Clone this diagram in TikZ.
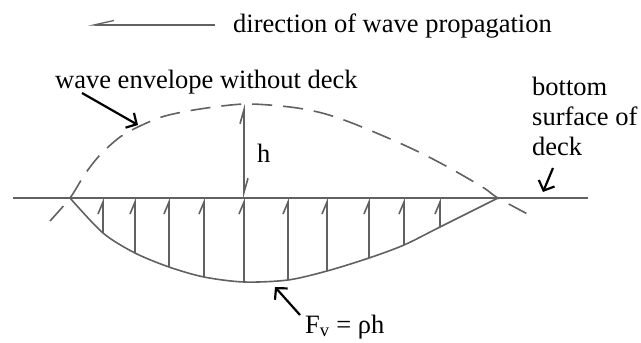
\documentclass[tikz,border=0pt]{standalone}
\usepackage{fontspec}
\setmainfont{Liberation Serif}
\usetikzlibrary{arrows.meta}

\begin{document}
\begin{tikzpicture}[x=1pt, y=-1pt,
        scan/.style={draw=black!62, line width=1.6pt},
        txt/.style={inner sep=0pt, anchor=base west, font=\fontsize{26.5}{30}\selectfont},
        pointer/.style={draw=black, line width=2.2pt, -{Straight Barb[length=8pt, width=17pt]}},
        hatch/.style={scan, -{Straight Barb[left, length=12pt, width=10pt]}}]
            \useasboundingbox (0,0) rectangle (641,343);

            % Draw nodes
            \node[txt] (dirtext) at (233,32) {direction of wave propagation};
            \node[txt] (envtext) at (55,88) {wave envelope without deck};
            \node[txt, align=left] (decktext) at (532,155) {bottom\\surface of\\deck};
            \node[txt] (htext) at (257,162) {h};
            \node[txt] (fvtext) at (305,333) {F\textsubscript{v} = ρh};

            % Arrow ends
            \coordinate (dirtail) at (215,25);
            \coordinate (dirtip) at (88,25);
            \coordinate (envtail) at (82,93);
            \coordinate (envtip) at (138,125);
            \coordinate (decktail) at (553,168);
            \coordinate (decktip) at (543,192);
            \coordinate (fvtail) at (300,315);
            \coordinate (fvtip) at (275,287);
            \coordinate (hbase) at (244,198);
            \coordinate (htop) at (244,104);

            % Draw deck and wave
            \draw[scan] (13,198) -- (588,198);
            \draw[scan, dash pattern=on 20pt off 11pt] plot[smooth] coordinates {(50,221) (70,198) (85,174) (100,155)
                (120,137) (140,126) (165,116) (200,109) (245,104) (290,107) (322,113) (352,123) (395,141)
                (425,155) (455,171) (484,188) (498,198) (535,218)};
            \draw[scan] plot[smooth] coordinates {(70,198) (103,233) (135,253) (169,267) (204,277) (244,282)
                (288,280) (327,271) (369,258) (404,245) (440,227) (498,198)};
            \foreach \x/\y in {103/233, 135/253, 169/267, 204/277, 244/282, 288/280, 327/271, 369/258, 404/245, 440/227}
                \draw[hatch] (\x,\y) -- (\x,198);

            % Draw connections
            \draw[scan, line width=1.3pt, -{Straight Barb[right, length=20pt, width=9pt]}] (dirtail) -- (dirtip);
            \draw[scan, {Straight Barb[left, length=14pt, width=8pt]}-{Straight Barb[left, length=14pt, width=8pt]}] (hbase) -- (htop);
            \draw[pointer] (envtail) -- (envtip);
            \draw[pointer] (decktail) -- (decktip);
            \draw[pointer] (fvtail) -- (fvtip);
        \end{tikzpicture}
\end{document}
